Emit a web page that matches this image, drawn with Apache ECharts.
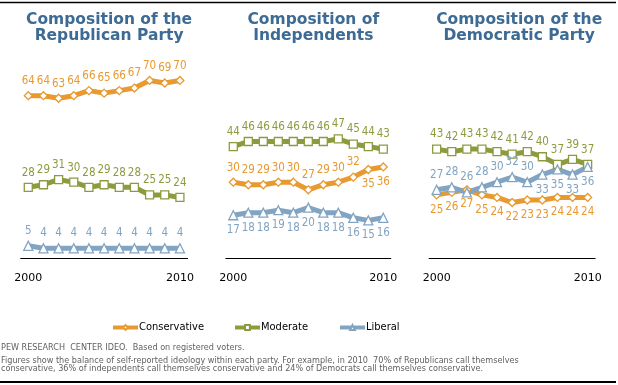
<!DOCTYPE html>
<html><head><meta charset="utf-8">
<script src="https://cdn.jsdelivr.net/npm/echarts@6/dist/echarts.min.js"></script>
<style>html,body{margin:0;padding:0;background:#fff}#c{width:618px;height:385px}</style>
</head><body><div id="c"></div>
<script>
// ---- data ----
const years = ['2000','2001','2002','2003','2004','2005','2006','2007','2008','2009','2010'];
const shownTicks = ['2000','2010'];
const panelTitles = ['Composition of the\nRepublican Party','Composition of\nIndependents','Composition of the\nDemocratic Party'];
const seriesNames = ['Conservative','Moderate','Liberal'];

const repConservative = [64,64,63,64,66,65,66,67,70,69,70];
const repModerate     = [28,29,31,30,28,29,28,28,25,25,24];
const repLiberal      = [5,4,4,4,4,4,4,4,4,4,4];

const indConservative = [30,29,29,30,30,27,29,30,32,35,36];
const indModerate     = [44,46,46,46,46,46,46,47,45,44,43];
const indLiberal      = [17,18,18,19,18,20,18,18,16,15,16];

const demConservative = [25,26,27,25,24,22,23,23,24,24,24];
const demModerate     = [43,42,43,43,42,41,42,40,37,39,37];
const demLiberal      = [27,28,26,28,30,32,30,33,35,33,36];

const footerLines = [
  'PEW RESEARCH  CENTER IDEO.  Based on registered voters.',
  'Figures show the balance of self-reported ideology within each party. For example, in 2010  70% of Republicans call themselves',
  'conservative, 36% of independents call themselves conservative and 24% of Democrats call themselves conservative.'
];

// ---- styling ----
const colors = { Conservative:'#e8992f', Moderate:'#8d9b3e', Liberal:'#82a4c3' };
const symbols = { Conservative:'diamond', Moderate:'rect', Liberal:'triangle' };
const symbolSizes = { Conservative:8, Moderate:8, Liberal:9 };
const LABEL_FONT = "'DejaVu Sans Condensed','DejaVu Sans',sans-serif";

// label placement per panel/series: 'top' default; list of indices placed below, or 'all'
const belowRules = [
  {},
  { Conservative:[9,10], Liberal:'all' },
  { Conservative:'all', Liberal:[7,8,9,10] }
];

const panels = [
  { data:{Conservative:repConservative, Moderate:repModerate, Liberal:repLiberal} },
  { data:{Conservative:indConservative, Moderate:indModerate, Liberal:indLiberal} },
  { data:{Conservative:demConservative, Moderate:demModerate, Liberal:demLiberal} }
];
const gridBoxes = [
  { left:20.7, width:166.8 },
  { left:225.8, width:165 },
  { left:429.1, width:166.1 }
];
const GRID_TOP = 55, GRID_H = 203.5;

const grid = [], xAxis = [], yAxis = [], series = [], title = [];
panels.forEach((p, pi) => {
  const g = gridBoxes[pi];
  grid.push({ left:g.left, width:g.width, top:GRID_TOP, height:GRID_H });
  title.push({
    text: panelTitles[pi], left: g.left + g.width/2 + (pi === 2 ? 2 : 0), top: 7, textAlign:'center',
    textStyle:{ fontFamily:'DejaVu Sans', fontWeight:'bold', fontSize:15.5, lineHeight:16, color:'#3e6b94' }
  });
  xAxis.push({
    type:'category', gridIndex:pi, data:years, boundaryGap:true,
    axisLine:{ lineStyle:{ color:'#000', width:1 } },
    axisTick:{ show:false },
    axisLabel:{ interval:(i, v) => shownTicks.indexOf(v) >= 0, margin:14, color:'#000',
      fontSize:11, fontFamily:'DejaVu Sans' },
    splitLine:{ show:false }
  });
  yAxis.push({ type:'value', gridIndex:pi, min:0, max:80, show:false });
  seriesNames.forEach(name => {
    const rule = belowRules[pi][name];
    const vals = p.data[name];
    series.push({
      type:'line', name, xAxisIndex:pi, yAxisIndex:pi,
      data: vals.map((v, i) => {
        const below = rule === 'all' || (Array.isArray(rule) && rule.indexOf(i) >= 0);
        return { value:v, label:{ position: below ? 'bottom' : 'top' } };
      }),
      symbol: symbols[name], symbolSize: symbolSizes[name],
      lineStyle:{ color:colors[name], width:5 },
      itemStyle:{ color:'#fff', borderColor:colors[name], borderWidth:1.3 },
      label:{ show:true, distance:4, color:colors[name], fontSize:11.5, fontFamily:LABEL_FONT },
      animation:false, silent:true
    });
  });
});

const legendLefts = [106, 228, 333];
const legend = seriesNames.map((n, i) => ({
  data:[n], left:legendLefts[i], top:317, itemWidth:25, itemHeight:6, itemGap:0,
  lineStyle:{ width:4 },
  textStyle:{ color:'#000', fontSize:11, fontFamily:LABEL_FONT, padding:[0,0,0,-4] },
  selectedMode:false
}));

const graphic = [
  { type:'line', shape:{ x1:0, y1:2.5, x2:616, y2:2.5 }, style:{ stroke:'#000', lineWidth:1.5 } },
  { type:'line', shape:{ x1:0, y1:382, x2:616, y2:382 }, style:{ stroke:'#000', lineWidth:2 } }
];
footerLines.forEach((t, i) => {
  graphic.push({ type:'text', left:1, top:[343.5, 356, 364.5][i],
    style:{ text:t, fill:'#5f5f5f', font:"9px 'DejaVu Sans Condensed','DejaVu Sans',sans-serif" } });
});

const chart = echarts.init(document.getElementById('c'), null, { renderer:'canvas' });
chart.setOption({ animation:false, title, grid, xAxis, yAxis, series, legend, graphic });
</script></body></html>
